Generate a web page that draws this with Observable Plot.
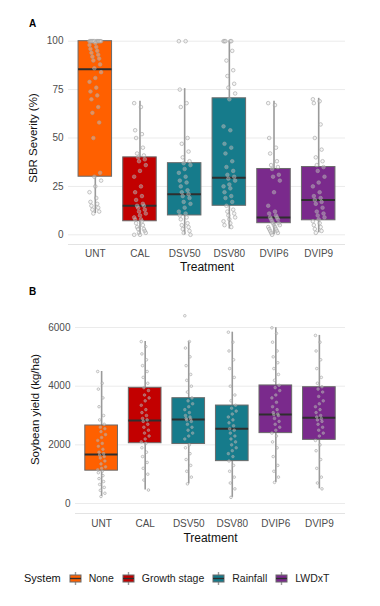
<!DOCTYPE html>
<html><head><meta charset="utf-8">
<script src="https://cdn.jsdelivr.net/npm/d3@7"></script>
<script src="https://cdn.jsdelivr.net/npm/@observablehq/plot@0.6"></script>
<style>
body{margin:0;background:#fff;font-family:"Liberation Sans",Arial,Helvetica,sans-serif;}
#app svg{display:block;}
#legend{display:flex;align-items:center;height:16px;margin-top:22px;padding-left:24px;font-size:10.5px;color:#222;white-space:nowrap;}
#legend .title{font-size:11px;margin-right:8px;color:#111;}
#legend .key{display:inline-block;margin-right:7px;}
#legend .lab{margin-right:8px;}
</style></head><body><div id="app"></div><div id="legend"></div>
<script>
const treatments = ["UNT","CAL","DSV50","DSV80","DVIP6","DVIP9"];
const systemNames = ["None","Growth stage","Rainfall","LWDxT"];
const systemColors = ["#FF6000","#C20000","#167B8B","#7A2A8C"];
const treatmentSystem = ["None","Growth stage","Rainfall","Rainfall","LWDxT","LWDxT"];

// Panel A: SBR severity (%) box summaries
const sevLo  = [11, 0, 0, 3, 0, 1];
const sevQ1  = [30, 7, 10, 15, 6, 7.5];
const sevMed = [85.5, 15, 21, 29.5, 9, 18];
const sevQ3  = [100, 40, 37, 70.5, 34, 35];
const sevHi  = [100, 69, 75.5, 100, 69, 70.5];

const sevUNT   = [100,100,100,100,100,100,100,100,100,100,100,100,99,98,97,96,95,94,93,92,91,90,88,86,84,81,79,76,74,72,70,66,63,58,50,32,30,28,25,22,19,17,16,15,14,13,12,11];
const sevCAL   = [68,66,54,52,50,45,42,41,40,39,38,36,33,30,25,22,20,18,16,15,15,14,13,12,11,10,9,8,8,7,6,5,4,3,3,2,1,1,0,0];
const sevDSV50 = [100,100,75,68,66,50,47,43,40,38,37,36,34,32,30,28,27,25,23,22,21,20,19,17,16,14,12,11,10,9,8,6,5,4,3,2,1,0];
const sevDSV80 = [100,100,100,100,100,95,90,85,82,78,76,73,70,56,54,47,45,42,38,35,33,31,30,29,28,26,25,24,22,20,19,17,15,13,12,11,10,9,8,7,6,5,4];
const sevDVIP6 = [68,67,50,45,42,38,36,35,34,31,30,28,22,15,12,11,10,9,9,8,8,7,6,6,5,5,4,4,3,3,2,2,1,1,0];
const sevDVIP9 = [70,69,68,57,50,44,40,38,36,35,33,30,27,25,22,20,19,18,17,16,14,12,11,10,9,8,7,6,5,4,3,2,1];

// Panel B: soybean yield (kg/ha) box summaries
const yldLo  = [240, 460, 670, 210, 720, 500];
const yldQ1  = [1120, 2055, 2030, 1445, 2400, 2170];
const yldMed = [1670, 2830, 2865, 2545, 3035, 2920];
const yldQ3  = [2660, 3945, 3590, 3340, 4025, 3965];
const yldHi  = [4500, 5520, 5520, 5840, 5990, 5730];

const yldUNT   = [4500,4100,3900,3600,3300,3000,2850,2700,2600,2550,2450,2350,2250,2150,2050,1950,1850,1750,1700,1650,1600,1550,1450,1350,1250,1200,1150,1100,1050,950,850,750,650,550,450,350,240];
const yldCAL   = [5520,5350,5100,4900,4700,4500,4300,4100,3950,3850,3700,3600,3500,3350,3200,3100,3000,2900,2850,2800,2700,2600,2500,2400,2300,2200,2100,2050,1900,1750,1600,1400,1200,1000,800,460];
const yldDSV50 = [6400,5520,5300,5000,4700,4400,4200,4000,3800,3600,3500,3400,3300,3200,3100,3000,2950,2900,2880,2850,2800,2700,2600,2500,2400,2300,2200,2000,1900,1700,1500,1300,1100,900,670];
const yldDSV80 = [5840,5500,5200,4900,4600,4300,4000,3700,3500,3350,3250,3150,3050,2950,2850,2750,2650,2550,2500,2400,2300,2200,2100,2000,1900,1800,1700,1600,1450,1300,1100,900,700,500,210];
const yldDVIP6 = [5990,5800,5500,5200,5000,4800,4600,4400,4200,4030,3950,3850,3700,3600,3450,3300,3200,3100,3050,3030,3000,2900,2800,2700,2600,2500,2400,2300,2100,1900,1600,1300,1100,900,720];
const yldDVIP9 = [5730,5500,5200,4900,4600,4300,4100,3980,3900,3800,3650,3500,3400,3300,3200,3100,3000,2950,2900,2850,2800,2700,2600,2500,2400,2300,2150,2000,1800,1500,1200,900,700,500];

const FONT = '"Liberation Sans",Arial,Helvetica,sans-serif';

function panel(o) {
  const boxes = treatments.map((t, i) => ({i, t, sys: treatmentSystem[i], lo: o.lo[i], q1: o.q1[i], med: o.med[i], q3: o.q3[i], hi: o.hi[i]}));
  const pts = o.values.flatMap((arr, i) => arr.map((v, k) => ({i, v, j: ((((k * 7) % 13) - 6) / 6) * o.jw})));
  const hw = 0.375;
  return Plot.plot({
    width: 380, height: o.height,
    marginLeft: o.marginLeft, marginRight: 35, marginTop: o.marginTop, marginBottom: o.marginBottom,
    style: {fontFamily: FONT, color: "#4d4d4d", background: "#fff", overflow: "visible"},
    x: {domain: [-0.6, 5.6], axis: null},
    y: {domain: o.yDomain, axis: null},
    color: {domain: systemNames, range: systemColors},
    marks: [
      Plot.gridY(o.yTicks, {stroke: "#ebebeb", strokeOpacity: 1, strokeWidth: 1}),
      Plot.ruleY([o.yDomain[0]], {stroke: "#e3e3e3", strokeWidth: 1}),
      Plot.axisY(o.yTicks, {tickSize: 0, tickPadding: 5, fontSize: 10, label: null, tickFormat: d => String(d)}),
      Plot.axisX([0, 1, 2, 3, 4, 5], {tickSize: 0, tickPadding: o.xPad, fontSize: 10, tickFormat: i => treatments[i], label: null}),
      Plot.ruleX(boxes, {x: "i", y1: "lo", y2: "q1", stroke: "#9a9a9a", strokeWidth: 1.6}),
      Plot.ruleX(boxes, {x: "i", y1: "q3", y2: "hi", stroke: "#9a9a9a", strokeWidth: 1.6}),
      Plot.rect(boxes, {x1: d => d.i - hw, x2: d => d.i + hw, y1: "q1", y2: "q3", fill: "sys", stroke: "#6a6a6a", strokeWidth: 1}),
      Plot.ruleY(boxes, {x1: d => d.i - hw, x2: d => d.i + hw, y: "med", stroke: "#2e2e2e", strokeWidth: 2}),
      Plot.dot(pts, {x: d => d.i + d.j, y: "v", r: o.r, stroke: "#a0a0a0", strokeOpacity: 0.85, strokeWidth: 0.7, fill: "#e6e6e6", fillOpacity: 0.35}),
      Plot.text([o.tag], {text: d => d, frameAnchor: "top-left", dx: 32 - o.marginLeft, dy: o.tagDy, textAnchor: "middle", lineAnchor: "middle", fontWeight: "bold", fontSize: 10, fill: "#000"}),
      Plot.text(["Treatment"], {text: d => d, frameAnchor: "bottom", dy: o.titleDy, lineAnchor: "middle", fontSize: 12, fill: "#111"}),
      Plot.text([o.ytitle], {text: d => d, frameAnchor: "left", dx: o.ytitleX - o.marginLeft, rotate: -90, textAnchor: "middle", lineAnchor: "middle", fontSize: 11.5, fill: "#111"})
    ]
  });
}

const app = document.getElementById("app");
app.append(panel({
  values: [sevUNT, sevCAL, sevDSV50, sevDSV80, sevDVIP6, sevDVIP9],
  lo: sevLo, q1: sevQ1, med: sevMed, q3: sevQ3, hi: sevHi,
  yDomain: [-5, 105], yTicks: [0, 25, 50, 75, 100],
  height: 278, marginLeft: 68, marginTop: 31, marginBottom: 34,
  jw: 0.13, r: 1.8, xPad: 5, tag: "A", tagDy: -8, titleDy: 23, ytitleX: 33,
  ytitle: "SBR Severity (%)"
}));
app.append(panel({
  values: [yldUNT, yldCAL, yldDSV50, yldDSV80, yldDVIP6, yldDVIP9],
  lo: yldLo, q1: yldQ1, med: yldMed, q3: yldQ3, hi: yldHi,
  yDomain: [-340, 6750], yTicks: [0, 2000, 4000, 6000],
  height: 270, marginLeft: 75, marginTop: 27, marginBottom: 35,
  jw: 0.09, r: 1.3, xPad: 6, tag: "B", tagDy: -14, titleDy: 24.5, ytitleX: 35,
  ytitle: "Soybean yield (kg/ha)"
}));

const legend = document.getElementById("legend");
const t = document.createElement("span"); t.className = "title"; t.textContent = "System"; legend.append(t);
systemNames.forEach((name, k) => {
  const key = document.createElement("span"); key.className = "key";
  key.innerHTML = `<svg width="13" height="13" style="display:block"><line x1="6.5" x2="6.5" y1="0" y2="13" stroke="#9a9a9a" stroke-width="1.4"/><rect x="1" y="3" width="11" height="7" fill="${systemColors[k]}" stroke="#6a6a6a" stroke-width="1"/><line x1="1" x2="12" y1="6.5" y2="6.5" stroke="#2e2e2e" stroke-width="1.4"/></svg>`;
  const lab = document.createElement("span"); lab.className = "lab"; lab.textContent = name;
  legend.append(key, lab);
});
</script></body></html>
